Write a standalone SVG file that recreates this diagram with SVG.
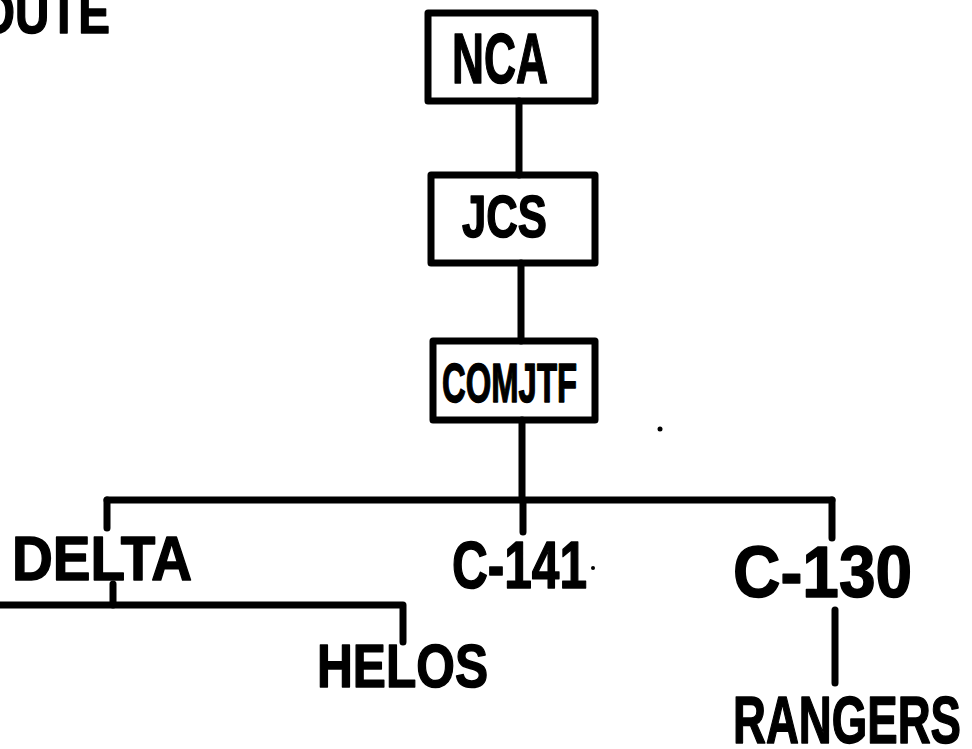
<svg xmlns="http://www.w3.org/2000/svg" width="972" height="749" viewBox="0 0 972 749">
<style>
.box{fill:none;stroke:#000;stroke-width:7;stroke-linejoin:round}
.ln{fill:none;stroke:#000;stroke-width:7;stroke-linecap:round;stroke-linejoin:round}
.t{font-family:"Liberation Sans","Noto Sans",sans-serif;font-weight:bold;fill:#000;stroke:#000;stroke-width:1.5;stroke-linejoin:round}
</style>
<rect width="972" height="749" fill="#fff"/>
<g id="title"><text class="t" x="-22" y="33" font-size="60" textLength="132" lengthAdjust="spacingAndGlyphs">OUTE</text></g>
<g id="connectors">
<line class="ln" x1="519" y1="101" x2="519" y2="175"/>
<line class="ln" x1="521" y1="263" x2="521" y2="341"/>
<line class="ln" x1="522" y1="420" x2="522" y2="500"/>
<line class="ln" x1="107" y1="500" x2="832" y2="500"/>
<line class="ln" x1="107" y1="500" x2="107" y2="528"/>
<line class="ln" x1="523" y1="500" x2="523" y2="532"/>
<line class="ln" x1="832" y1="500" x2="832" y2="538"/>
<line class="ln" x1="113" y1="584" x2="113" y2="605"/>
<polyline class="ln" points="-5,605 403,605 403,642"/>
<line class="ln" x1="835" y1="610" x2="835" y2="683"/>
</g>
<g id="nca"><rect class="box" x="428" y="13" width="167" height="88"/><text class="t" x="452" y="83" font-size="70" textLength="96" lengthAdjust="spacingAndGlyphs">NCA</text></g>
<g id="jcs"><rect class="box" x="431" y="175" width="164" height="88"/><text class="t" x="462" y="237" font-size="59" textLength="85" lengthAdjust="spacingAndGlyphs">JCS</text></g>
<g id="comjtf"><rect class="box" x="433" y="341" width="162" height="79"/><text class="t" x="442" y="402" font-size="56" textLength="135" lengthAdjust="spacingAndGlyphs">COMJTF</text></g>
<g id="delta"><text class="t" x="12" y="580" font-size="63" textLength="180" lengthAdjust="spacingAndGlyphs">DELTA</text></g>
<g id="c141"><text class="t" x="452" y="588" font-size="67" textLength="135" lengthAdjust="spacingAndGlyphs">C-141</text><circle cx="593" cy="568" r="2" fill="#000"/></g>
<g id="c130"><text class="t" x="733" y="597" font-size="72" textLength="179" lengthAdjust="spacingAndGlyphs">C-130</text></g>
<g id="helos"><text class="t" x="317" y="687" font-size="62" textLength="171" lengthAdjust="spacingAndGlyphs">HELOS</text></g>
<g id="rangers"><text class="t" x="733" y="743" font-size="66" textLength="228" lengthAdjust="spacingAndGlyphs">RANGERS</text></g>
<circle cx="660" cy="429" r="2.5" fill="#000"/>
</svg>
